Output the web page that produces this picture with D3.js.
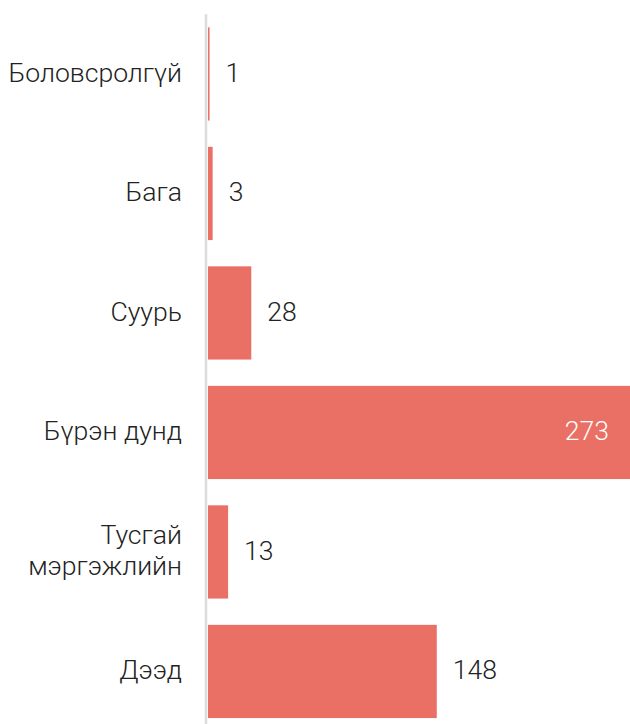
<!DOCTYPE html>
<html><head><meta charset="utf-8">
<script src="https://cdn.jsdelivr.net/npm/d3@7"></script>
<style>html,body{margin:0;padding:0;background:#fff;overflow:hidden}</style>
</head><body><svg id="c" width="630" height="724"></svg>
<script>
const categories = ["Боловсролгүй", "Бага", "Суурь", "Бүрэн дунд", "Тусгай мэргэжлийн", "Дээд"];
const categoryLines = [["Боловсролгүй"], ["Бага"], ["Суурь"], ["Бүрэн дунд"], ["Тусгай", "мэргэжлийн"], ["Дээд"]];
const values = [1, 3, 28, 273, 13, 148];

const svg = d3.select("#c");
const fontFamily = "'Roboto Light', Roboto, 'Noto Sans', sans-serif";
const fs = 26.6;

const x = d3.scaleLinear().domain([0, 273]).range([208, 630]);
const y = d3.scaleBand().domain(categories).range([14.2, 731.2]).paddingInner(0.22).paddingOuter(0.11);

svg.selectAll("rect.bar").data(values).join("rect")
  .attr("class", "bar")
  .attr("x", x(0))
  .attr("y", (d, i) => y(categories[i]))
  .attr("width", d => x(d) - x(0))
  .attr("height", y.bandwidth())
  .attr("fill", "#EA6F64");

// axis line
svg.append("line")
  .attr("x1", 206).attr("x2", 206)
  .attr("y1", y.range()[0]).attr("y2", y.range()[1])
  .attr("stroke", "#dcdcdc").attr("stroke-width", 2.5);

// category labels
const lab = svg.selectAll("text.cat").data(categoryLines).join("text")
  .attr("class", "cat")
  .attr("x", 182)
  .attr("y", (d, i) => y(categories[i]) + y.bandwidth() / 2)
  .attr("text-anchor", "end")
  .attr("font-family", fontFamily)
  .attr("font-weight", 300)
  .attr("font-size", fs)
  .attr("fill", "#222");
lab.each(function(lines) {
  const t = d3.select(this);
  const lh = 31;
  const start = -(lines.length - 1) * lh / 2;
  lines.forEach((ln, k) => {
    t.append("tspan").attr("x", 182)
      .attr("dy", k === 0 ? (start + fs * 0.3) : lh)
      .text(ln);
  });
});

// value labels
const maxV = d3.max(values);
svg.selectAll("text.val").data(values).join("text")
  .attr("class", "val")
  .attr("x", d => d === maxV ? x(d) - 21 : x(d) + 16)
  .attr("y", (d, i) => y(categories[i]) + y.bandwidth() / 2)
  .attr("dy", fs * 0.3)
  .attr("text-anchor", d => d === maxV ? "end" : "start")
  .attr("font-family", fontFamily)
  .attr("font-weight", 300)
  .attr("font-size", fs)
  .attr("fill", d => d === maxV ? "#fff" : "#222")
  .text(d => d);
</script></body></html>
